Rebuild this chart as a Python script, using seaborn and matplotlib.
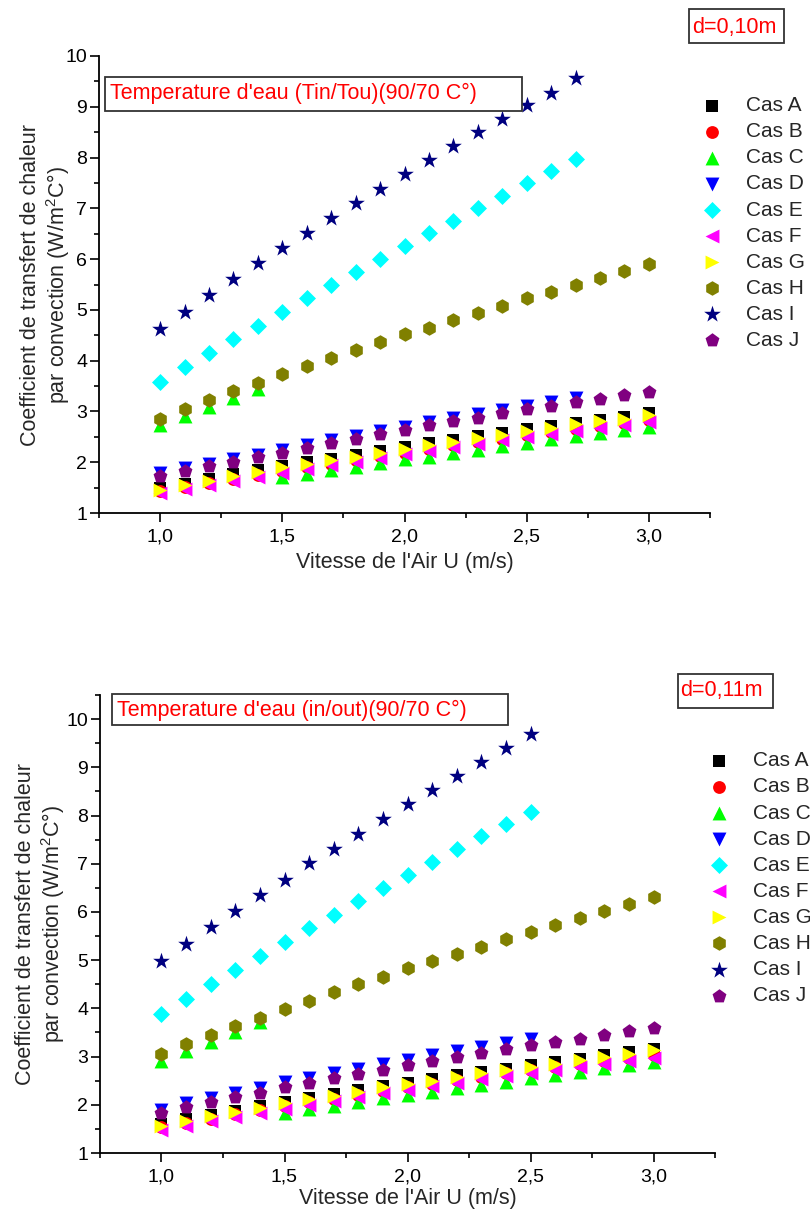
import matplotlib
matplotlib.use("Agg")
import matplotlib.pyplot as plt
import seaborn as sns
from matplotlib.patches import Rectangle
from matplotlib.ticker import MultipleLocator, FuncFormatter

sns.set_style("ticks")
plt.rcParams["font.family"] = ["Liberation Sans", "DejaVu Sans"]
plt.rcParams["mathtext.fontset"] = "custom"
plt.rcParams["mathtext.rm"] = "Liberation Sans"
plt.rcParams["mathtext.it"] = "Liberation Sans:italic"

# ---------------- data ----------------
SPEED = [1.0, 1.1, 1.2, 1.3, 1.4, 1.5, 1.6, 1.7, 1.8, 1.9, 2.0,
         2.1, 2.2, 2.3, 2.4, 2.5, 2.6, 2.7, 2.8, 2.9, 3.0]
CASES = ["Cas A", "Cas B", "Cas C", "Cas D", "Cas E",
         "Cas F", "Cas G", "Cas H", "Cas I", "Cas J"]
MARKERS = ["s", "o", "^", "v", "D", "<", ">", "h", "*", "p"]
COLORS = ["#000000", "#FF0000", "#00FF00", "#0000FF", "#00FFFF",
          "#FF00FF", "#FFFF00", "#808000", "#000080", "#800080"]

# d = 0,10 m
top_A = [1.49, 1.58, 1.67, 1.76, 1.84, 1.93, 2.00, 2.07, 2.15, 2.22, 2.30,
         2.37, 2.44, 2.51, 2.58, 2.65, 2.71, 2.78, 2.84, 2.90, 2.96]
top_B = [1.43, 1.51, 1.59, 1.67, 1.75, 1.83, 1.90, 1.97, 2.05, 2.12, 2.19,
         2.26, 2.33, 2.40, 2.46, 2.53, 2.59, 2.66, 2.72, 2.78, 2.84]
top_C = [2.73, 2.92, 3.09, 3.27, 3.45, 1.70, 1.77, 1.84, 1.91, 1.98, 2.06,
         2.11, 2.18, 2.25, 2.32, 2.38, 2.45, 2.52, 2.58, 2.64, 2.70]
top_D = [1.78, 1.88, 1.97, 2.06, 2.15, 2.25, 2.34, 2.43, 2.52, 2.61, 2.70,
         2.79, 2.87, 2.95, 3.03, 3.11, 3.19, 3.27]
top_E = [3.58, 3.87, 4.16, 4.43, 4.69, 4.96, 5.23, 5.49, 5.75, 6.00, 6.26,
         6.51, 6.76, 7.00, 7.25, 7.49, 7.73, 7.97]
top_F = [1.39, 1.47, 1.55, 1.63, 1.71, 1.79, 1.86, 1.94, 2.01, 2.08, 2.16,
         2.23, 2.30, 2.36, 2.43, 2.49, 2.56, 2.62, 2.68, 2.74, 2.80]
top_G = [1.45, 1.55, 1.64, 1.73, 1.81, 1.90, 1.96, 2.04, 2.11, 2.19, 2.27,
         2.33, 2.40, 2.48, 2.54, 2.61, 2.68, 2.75, 2.81, 2.86, 2.93]
top_H = [2.86, 3.04, 3.22, 3.40, 3.57, 3.74, 3.90, 4.06, 4.21, 4.37, 4.52,
         4.65, 4.80, 4.94, 5.08, 5.23, 5.36, 5.50, 5.63, 5.76, 5.90]
top_I = [4.63, 4.96, 5.29, 5.61, 5.92, 6.21, 6.51, 6.81, 7.10, 7.39, 7.67,
         7.95, 8.22, 8.50, 8.76, 9.03, 9.28, 9.56]
top_J = [1.72, 1.82, 1.92, 2.01, 2.10, 2.19, 2.28, 2.37, 2.46, 2.55, 2.64,
         2.73, 2.81, 2.88, 2.96, 3.04, 3.11, 3.18, 3.25, 3.32, 3.39]

# d = 0,11 m
bot_A = [1.60, 1.70, 1.79, 1.88, 1.97, 2.06, 2.15, 2.23, 2.31, 2.39, 2.46,
         2.53, 2.61, 2.68, 2.75, 2.82, 2.89, 2.96, 3.03, 3.09, 3.16]
bot_B = [1.53, 1.62, 1.71, 1.80, 1.89, 1.97, 2.05, 2.13, 2.21, 2.29, 2.37,
         2.44, 2.51, 2.58, 2.65, 2.72, 2.78, 2.85, 2.91, 2.97, 3.03]
bot_C = [2.91, 3.12, 3.31, 3.50, 3.71, 1.83, 1.91, 1.98, 2.06, 2.14, 2.21,
         2.27, 2.35, 2.42, 2.48, 2.55, 2.62, 2.69, 2.76, 2.82, 2.89]
bot_D = [1.90, 2.03, 2.14, 2.25, 2.35, 2.47, 2.56, 2.66, 2.75, 2.84, 2.93,
         3.03, 3.12, 3.20, 3.28, 3.36]
bot_E = [3.88, 4.19, 4.50, 4.79, 5.09, 5.37, 5.66, 5.94, 6.22, 6.49, 6.77,
         7.04, 7.30, 7.57, 7.83, 8.08]
bot_F = [1.48, 1.57, 1.66, 1.75, 1.84, 1.92, 2.00, 2.08, 2.16, 2.24, 2.31,
         2.38, 2.46, 2.53, 2.60, 2.66, 2.73, 2.79, 2.85, 2.91, 2.97]
bot_G = [1.57, 1.67, 1.76, 1.85, 1.94, 2.03, 2.12, 2.19, 2.27, 2.36, 2.43,
         2.49, 2.57, 2.65, 2.72, 2.78, 2.85, 2.93, 3.00, 3.06, 3.13]
bot_H = [3.06, 3.26, 3.44, 3.63, 3.81, 3.99, 4.16, 4.33, 4.50, 4.66, 4.83,
         4.99, 5.13, 5.28, 5.44, 5.58, 5.73, 5.87, 6.02, 6.16, 6.30]
bot_I = [4.98, 5.33, 5.68, 6.02, 6.35, 6.67, 7.01, 7.31, 7.62, 7.93, 8.24,
         8.53, 8.83, 9.12, 9.40, 9.69]
bot_J = [1.83, 1.96, 2.06, 2.16, 2.25, 2.36, 2.46, 2.56, 2.64, 2.72, 2.82,
         2.91, 3.00, 3.08, 3.16, 3.24, 3.31, 3.37, 3.45, 3.53, 3.60]

TOP = [top_A, top_B, top_C, top_D, top_E, top_F, top_G, top_H, top_I, top_J]
BOT = [bot_A, bot_B, bot_C, bot_D, bot_E, bot_F, bot_G, bot_H, bot_I, bot_J]

X_TICKS = [1.0, 1.5, 2.0, 2.5, 3.0]

# ---------------- figure ----------------
W, H = 810, 1211
fig = plt.figure(figsize=(W / 100, H / 100), dpi=100)


def px_axes(l, t, r, b):
    return fig.add_axes([l / W, 1 - b / H, (r - l) / W, (b - t) / H])


SIZES = {"s": 70, "o": 85, "^": 100, "v": 100, "D": 75, "<": 100, ">": 100,
         "h": 110, "*": 160, "p": 110}


def draw_panel(ax, series, ymax):
    for name, vals, m, c in zip(CASES, series, MARKERS, COLORS):
        sns.scatterplot(x=SPEED[:len(vals)], y=vals, ax=ax, marker=m,
                        color=c, s=SIZES[m], linewidth=0, label=name,
                        legend=False)
    ax.set_xlim(0.75, 3.25)
    ax.set_ylim(1, ymax)
    ax.set_xticks(X_TICKS)
    ax.xaxis.set_minor_locator(MultipleLocator(0.25))
    ax.yaxis.set_major_locator(MultipleLocator(1))
    ax.yaxis.set_minor_locator(MultipleLocator(0.5))
    ax.xaxis.set_major_formatter(
        FuncFormatter(lambda v, p: f"{v:.1f}".replace(".", ",")))
    ax.yaxis.set_major_formatter(FuncFormatter(lambda v, p: f"{v:.0f}"))
    sns.despine(ax=ax)
    for sp in ("left", "bottom"):
        ax.spines[sp].set_linewidth(1.3)
        ax.spines[sp].set_color("black")
    ax.tick_params(which="major", direction="out", length=6.5, width=1.2,
                   labelsize=14, colors="black", pad=2)
    ax.tick_params(which="minor", direction="out", length=3.5, width=1.2,
                   colors="black")
    ax.tick_params(axis="x", which="major", pad=5)
    ax.set_xlabel("Vitesse de l'Air U (m/s)", fontsize=15.5)
    ax.set_ylabel("Coefficient de transfert de chaleur\n"
                  "par convection (W/m$^2$C°)", fontsize=15.5,
                  linespacing=1.15)


def box_text(ax, rect, txt_xy, text):
    x0, y0, x1, y1 = rect
    ax.add_patch(Rectangle((x0, y0), x1 - x0, y1 - y0, transform=ax.transAxes,
                           fill=True, facecolor="white", edgecolor="#333333",
                           linewidth=1.3, zorder=5, clip_on=False))
    ax.text(txt_xy[0], txt_xy[1], text, transform=ax.transAxes, color="red",
            fontsize=15.5, ha="left", va="center", zorder=6)


def fig_box(l, t, r, b, tx, ty, text):
    fig.patches.append(Rectangle((l / W, 1 - b / H), (r - l) / W, (b - t) / H,
                                 transform=fig.transFigure, fill=True,
                                 facecolor="white", edgecolor="#333333",
                                 linewidth=1.3))
    fig.text(tx / W, 1 - ty / H, text, color="red", fontsize=15.5,
             ha="left", va="center")


LEG = dict(loc="upper left", frameon=False, borderpad=0, borderaxespad=0,
           handlelength=1.0, handletextpad=1.13, labelspacing=0.34,
           fontsize=15, scatterpoints=1)

# top panel
ax1 = px_axes(99, 56, 710, 513)
draw_panel(ax1, TOP, 10)
ax1.xaxis.set_label_coords(0.5, -0.085)
ax1.yaxis.set_label_coords(-0.044, 0.5)
box_text(ax1, (0.0098, 0.8796, 0.692, 0.954), (0.018, 0.917),
         "Temperature d'eau (Tin/Tou)(90/70 C°)")
ax1.legend(bbox_to_anchor=(0.986, 0.912), **LEG)
fig_box(689, 9, 784, 43, 692, 27, "d=0,10m")

# bottom panel
ax2 = px_axes(100, 695, 715, 1153)
draw_panel(ax2, BOT, 10.5)
ax2.xaxis.set_label_coords(0.5, -0.077)
ax2.yaxis.set_label_coords(-0.054, 0.5)
box_text(ax2, (0.0195, 0.9345, 0.663, 1.002), (0.0276, 0.967),
         "Temperature d'eau (in/out)(90/70 C°)")
ax2.legend(bbox_to_anchor=(0.9896, 0.877), **LEG)
fig_box(678, 674, 773, 708, 680, 691, "d=0,11m")

fig.savefig("out.png", dpi=100)
